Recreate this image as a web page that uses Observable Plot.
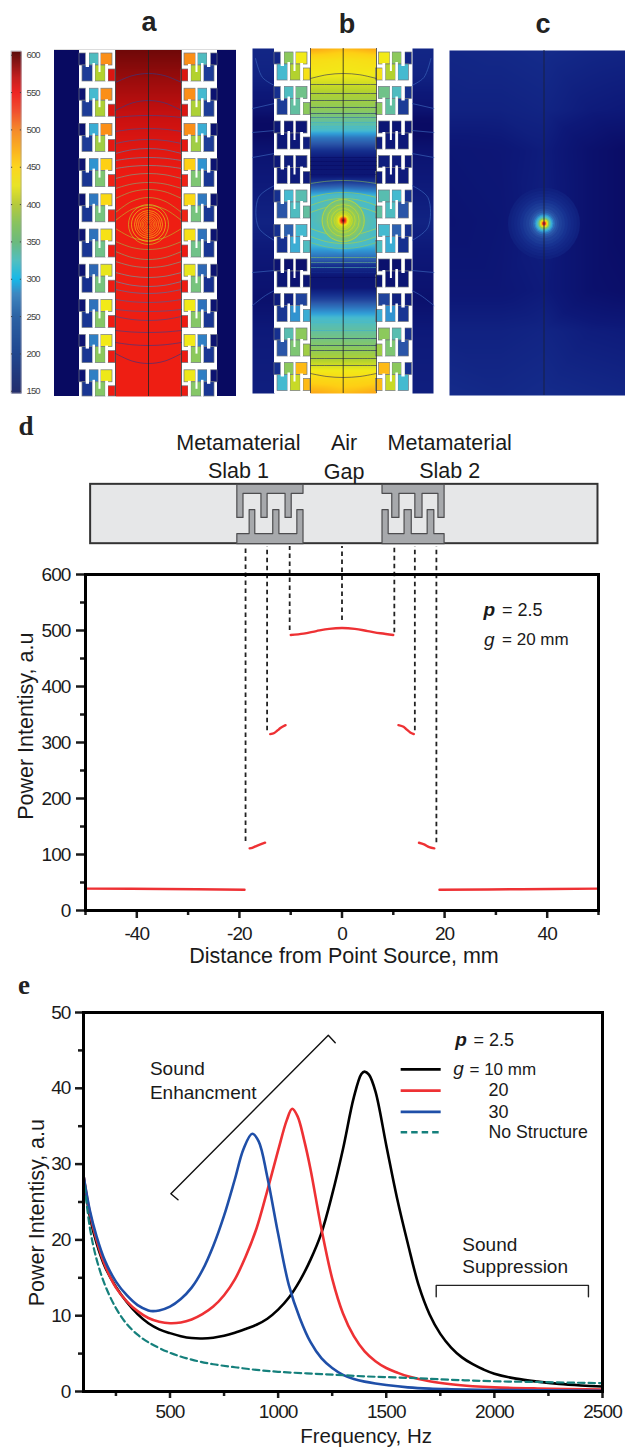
<!DOCTYPE html>
<html><head><meta charset="utf-8">
<script src="https://cdn.jsdelivr.net/npm/d3@7"></script>
<script src="https://cdn.jsdelivr.net/npm/@observablehq/plot@0.6"></script>
<style>
html,body{margin:0;padding:0;background:#fff}
#page{position:relative;width:625px;height:1447px;overflow:hidden;font-family:"Liberation Sans",Arial,sans-serif}
#page svg{position:absolute;overflow:visible;background:transparent}
.ltr{position:absolute;transform:translate(-50%,-50%);color:#222;line-height:1}
.san{font:bold 27px "Liberation Sans",sans-serif}
.ser{font:bold 27px "Liberation Serif",serif}
svg g[aria-label="y-axis tick label"] text,svg g[aria-label="x-axis tick label"] text{letter-spacing:-.9px}
</style></head><body><div id="page"></div>
<script>
// ---------- shared intensity colour map (panels a, b, c) ----------
const heatStops  = [100,150,175,200,230,260,290,310,340,370,400,430,460,490,530,550,570,600];
const heatColors = ["#06075a","#0a0c66","#0d1878","#16308f","#2a55a8","#2f78c0","#30a0d8","#45bad0","#62bfa0","#8cc95c","#b3d22e","#f2ea18","#fed014","#fb8f18","#f03a20","#ee1b12","#c81010","#6e0808"];
// ---------- colour bar ----------
const barStops  = [147,200,250,280,300,325,350,375,400,425,450,470,500,525,550,570,600,605];
const barColors = ["#232d6c","#1f468f","#2c62a4","#3e86c0","#18b8e8","#51bfc0","#6cba7d","#88c35f","#b6ca3c","#e8e428","#fcd620","#fbb720","#f58a2b","#f05030","#ee2424","#c4201f","#6b0f10","#5b0a0a"];
const barTicks  = [150,200,250,300,350,400,450,500,550,600];
// ---------- resonator cell: pockets (u1,u2,v1,v2) and white teeth ----------
const pocketU1 = [0,10,21.5,3,16,29];
const pocketU2 = [6.7,19.5,33,13.5,26.2,36];
const pocketV1 = [3,3,3,15,15,19];
const pocketV2 = [15,15,15,31,31,31];
const toothU1 = [6.7,19.5,13.5,26.2];
const toothU2 = [10,21.5,16,29];
const toothV1 = [0,0,13,14];
const toothV2 = [17,22,31,31];
// ---------- panel a ----------
const rowsA = [[165,320,490,210,400,560],[165,310,490,210,395,560],[165,300,490,210,385,555],[165,280,460,205,360,545],[165,260,450,205,355,545],[165,255,440,205,350,550],[165,245,425,200,355,550],[165,255,430,205,365,550],[165,265,430,205,370,550],[165,265,428,205,365,550]];
const channelYA = [49,80,110,140,170,224,396];
const channelVA = [600,585,572,560,551,548,548];
const contourCenterA = [73,100,115,128,139,148,157,165,173,182,189,197,205,240,249,259,267,277,286,293,302,311,320,332,345,363];
const contourEdgeA   = [82,110,117,131,143,153,160,168,178,188,198,212,220,228,241,251,261,272,281,289,299,309,316,330,342,353];
const contourValueA  = [215,215,225,230,240,280,300,320,340,350,365,380,400,400,370,350,335,320,300,270,250,240,225,215,210,205];
const ringRA = [2,3.5,5,6.5,8,10,12,14,17,20];
const ringVA = [490,490,480,480,470,465,460,450,430,410];
// ---------- panel b ----------
const rowsB = [[190,370,430,310,400,440],[200,320,350,210,340,370],[172,170,170,175,175,180],[175,180,180,178,178,178],[200,310,330,230,320,340],[200,240,310,200,300,320],[165,160,160,170,165,170],[180,185,215,205,280,300],[200,330,370,230,360,385],[200,370,470,310,410,470]];
const channelYB = [48,60,75,85,100,112,122,130,137,150,160,175,185,195,220,245,255,265,277,287,300,317,330,347,360,370,380,393];
const channelEdgeB   = [480,445,428,410,385,365,340,312,260,200,170,170,225,305,318,305,260,200,168,172,220,310,340,368,400,430,455,480];
const channelCenterB = [470,440,428,410,385,365,340,312,260,200,170,170,235,325,365,325,260,200,168,172,220,310,340,368,400,430,450,470];
const outerYB = [48,75,110,125,150,180,222,260,300,330,393];
const outerVB = [190,186,165,140,165,176,186,172,160,176,182];
const contourCenterB = [73,84,93,100,107,113,117,122,126,157,161,165,169,174,180,192,198,205,235,243,248,257,262,267,272,277,322,330,338,345,350,358,365,377];
const contourEdgeB   = [78,84,93,100,107,113,117,122,126,157,161,165,169,174,183,197,205,212,228,236,242,257,262,267,272,277,322,330,338,345,350,358,365,373];
const contourValueB  = [150,150,150,150,160,170,240,300,310,130,130,130,140,160,380,400,405,410,410,405,380,370,350,330,200,130,310,300,160,150,150,150,150,150];
const glowRB = [22,18,14,10,8,6,5,4,3,2,1];
const glowVB = [358,368,380,395,410,425,450,490,530,560,600];
const ringRB = [6,9,12,16,21];
// light contour arcs in the outer strip, left side; mirrored for the right
const arcIdB = [0,0,0,1,1,2,2,3,3,3,3,4,4,5,5,6,6,6];
const arcXB  = [255,262,274,252,274,252,274,274,258,258,274,252,274,252,274,252,265,274];
const arcYB  = [58,77,85,108,103,132,130,185,197,227,240,157,153,272,270,305,295,290];
// ---------- panel c ----------
const gridXC = [449,500,544,590,625];
const gridYC = [50,110,150,220,290,330,395];
const gridVC = [[190,192,195,190,188],[185,185,188,178,175],[170,172,180,160,150],[165,170,182,160,150],[172,172,178,160,155],[185,185,188,180,178],[195,192,195,192,190]];
const glowRC = [36,33,30,27,24,21,18,15,13,11,9.5,8.3,7,5.5,4,3,2,1];
const glowVC = [183,187,191,196,202,208,214,222,232,250,275,300,325,370,420,470,530,550];
// ---------- panel d ----------
const dLeftX  = [-50,-35,-19]; const dLeftY  = [39,38.5,37];
const dRightX = [19,35,50];    const dRightY = [37,38,39];
const dMidX   = [-10,-7.5,-5,-2.5,0,2.5,5,7.5,10];
const dMidY   = [492,494.5,499,503,504.5,503,499,495,492];
const dL2X = [-14,-13.2,-12.5,-12,-11]; const dL2Y = [315,317,322,326,331];
const dR2X = [11,12,12.5,13.3,14];      const dR2Y = [331,328,324,318,315];
const dL3X = [-18,-17.5,-16.5,-15];     const dL3Y = [111,112,116,121];
const dR3X = [15,16,17,18];             const dR3Y = [121,118,113,111];
const dashX   = [-18.8,-14.6,-10.2,0,10.2,14.2,18.4];
const dashEnd = [123,321,500,518,496,321,121];
const topTeeth1 = [[-20.5,-19.3],[-15.8,-14.6],[-11.1,-9.9]];
const lowTeeth1 = [[-18.1,-17],[-13.5,-12.3],[-8.8,-7.6]];
const topTeeth2 = [[9.7,11.1],[14.2,15.6],[18.7,19.9]];
const lowTeeth2 = [[7.8,9],[12.1,13.5],[16.6,17.9]];
const schemLabels = ["Metamaterial","Slab 1","Air","Gap","Metamaterial","Slab 2"];
const schemLabelX = [-20.2,-20.2,.4,.4,21,21];
const schemLabelY = [834,784,834,783,834,784];
// ---------- panel e ----------
const freq10 = [100,130,160,200,250,300,350,400,450,500,550,600,650,700,750,800,850,900,950,1000,1050,1100,1150,1200,1250,1300,1350,1385,1400,1420,1450,1500,1550,1600,1650,1700,1750,1800,1850,1900,1950,2000,2100,2200,2300,2400,2500];
const pow10  = [28.5,23,19.6,16.4,13.8,11.8,10.2,9,8.2,7.7,7.3,7.05,7,7.1,7.35,7.75,8.25,8.8,9.6,10.8,12.4,14.6,17.4,20.9,26,32,38.8,41.9,42.2,41.8,39.6,32.5,25.5,19.5,14,10.2,7.6,5.8,4.5,3.6,2.9,2.35,1.7,1.3,1,.8,.65];
const freq20 = [100,130,160,200,250,300,350,400,450,500,550,600,650,700,750,800,850,900,950,1000,1040,1065,1090,1120,1150,1200,1250,1300,1350,1400,1450,1500,1550,1600,1700,1800,1900,2000,2200,2500];
const pow20  = [28.5,23.5,20,16.6,13.7,11.9,10.6,9.7,9.2,9,9.1,9.5,10.2,11.2,12.7,14.8,17.8,21.5,26.5,31.8,35.8,37.3,36.3,33.2,29.3,21.5,14.9,10.3,7.3,5.3,4,3.1,2.5,2,1.35,.95,.7,.55,.4,.25];
const freq30 = [100,130,160,200,250,300,350,400,420,450,500,550,600,650,700,750,800,840,880,910,950,1000,1050,1100,1150,1200,1250,1300,1350,1400,1450,1500,1600,1700,1800,2000,2500];
const pow30  = [28.5,23.8,20.5,17.2,14.5,12.7,11.4,10.7,10.6,10.7,11.2,12.2,13.7,16,19.2,23.2,28,32,34,33,28.3,20.8,14,9.7,6.5,4.4,3.1,2.2,1.65,1.3,1.05,.85,.55,.38,.3,.2,.1];
const freqN  = [100,130,160,200,250,300,350,400,500,600,700,800,900,1000,1200,1400,1600,1800,2000,2200,2500];
const powN   = [28.5,21.5,17.5,14,11,8.9,7.5,6.5,5.1,4.2,3.6,3.2,2.85,2.6,2.3,2,1.8,1.55,1.35,1.25,1.1];

const page = document.getElementById("page");
const place = (svg,left,top)=>{svg.style.left=left+"px";svg.style.top=top+"px";page.appendChild(svg);};
const letter = (t,x,y,cls)=>{const d=document.createElement("div");d.className="ltr "+cls;d.textContent=t;d.style.left=x+"px";d.style.top=y+"px";page.appendChild(d);};
const pts = (xs,ys)=>xs.map((x,i)=>({x,y:ys[i]}));
const F = "Liberation Sans, Arial, sans-serif";
const heat = {type:"linear",domain:heatStops,range:heatColors,clamp:true};
const hide = ()=>"";

function cellMarks(cfg){
  const {wallL,chanL,chanR,wallR,cx,rows,y0,period,top,bottom} = cfg;
  const mirror = x=>2*cx-x;
  const pockets=[],teeth=[];
  rows.forEach((vals,k)=>{
    const yTop=y0+period*k;
    vals.forEach((v,i)=>{
      const a=wallL+pocketU1[i],b=wallL+pocketU2[i];
      pockets.push({x1:a,x2:b,y1:yTop+pocketV1[i],y2:Math.min(yTop+pocketV2[i],bottom),v});
      pockets.push({x1:mirror(b),x2:mirror(a),y1:yTop+pocketV1[i],y2:Math.min(yTop+pocketV2[i],bottom),v});
    });
    toothU1.forEach((u,i)=>{
      const a=wallL+u,b=wallL+toothU2[i];
      teeth.push({x1:a,x2:b,y1:yTop+toothV1[i],y2:Math.min(yTop+toothV2[i],bottom)});
      teeth.push({x1:mirror(b),x2:mirror(a),y1:yTop+toothV1[i],y2:Math.min(yTop+toothV2[i],bottom)});
    });
  });
  return [
    Plot.rect([{a:wallL,b:chanL},{a:chanR,b:wallR}],{x1:"a",x2:"b",y1:top,y2:bottom,fill:"white"}),
    Plot.rect(pockets,{x1:"x1",x2:"x2",y1:"y1",y2:"y2",fill:"v",stroke:"#6f7680",strokeWidth:.7}),
    Plot.rect(teeth,{x1:"x1",x2:"x2",y1:"y1",y2:"y2",fill:"white"})
  ];
}
function contourRows(center,edge,value,xl,xm,xr){
  return center.flatMap((c,i)=>[
    {id:i,x:xl,y:edge[i],v:value[i]},
    {id:i,x:(xl+xm)/2,y:(3*c+edge[i])/4,v:value[i]},
    {id:i,x:xm,y:c,v:value[i]},
    {id:i,x:(xm+xr)/2,y:(3*c+edge[i])/4,v:value[i]},
    {id:i,x:xr,y:edge[i],v:value[i]}]);
}
const panelOpts=(x0,x1,y0,y1,marks)=>({width:x1-x0,height:y1-y0,margin:0,
  x:{domain:[x0,x1],axis:null},y:{domain:[y1,y0],axis:null},color:heat,r:{type:"identity"},marks});

// Colour bar
const barData = barStops.flatMap((s)=>[{x:0,y:s,v:s},{x:1,y:s,v:s}]);
place(Plot.plot({width:50,height:360,marginLeft:11,marginRight:29,marginTop:11,marginBottom:7,
  style:{fontFamily:F,background:"transparent"},
  x:{domain:[0,1],axis:null},y:{domain:[147,605]},
  color:{type:"linear",domain:barStops,range:barColors},
  marks:[
    Plot.raster(barData,{x:"x",y:"y",fill:"v",interpolate:"barycentric",x1:0,x2:1,y1:147,y2:605,pixelSize:1}),
    Plot.rect([0],{x1:0,x2:1,y1:147,y2:605,stroke:"#99a",strokeWidth:.6,fill:"none"}),
    Plot.ruleY(barTicks,{x1:0,x2:.12,stroke:"#444",strokeWidth:1}),
    Plot.ruleY(barTicks,{x1:.88,x2:1,stroke:"#444",strokeWidth:1}),
    Plot.axisY(barTicks,{anchor:"right",tickSize:0,tickPadding:5,label:null,fontSize:9.5,color:"#444",stroke:"none",fill:"#444",tickFormat:d=>String(d)})
  ]}),0,40);

// Panel a
{
  const x0=54,x1=236,y0=49,y1=396,cx=148,chanL=115,chanR=181;
  const field=channelYA.flatMap((y,i)=>[{x:chanL,y,v:channelVA[i]},{x:chanR,y,v:channelVA[i]}]);
  const cont=contourRows(contourCenterA,contourEdgeA,contourValueA,chanL,cx,chanR);
  const rings=ringRA.map((r,i)=>({r,v:ringVA[i]}));
  place(Plot.plot(panelOpts(x0,x1,y0,y1,[
    Plot.rect([{a:x0,b:79},{a:217,b:x1}],{x1:"a",x2:"b",y1:y0,y2:y1,fill:()=>130}),
    Plot.raster(field,{x:"x",y:"y",fill:"v",interpolate:"barycentric",x1:chanL,x2:chanR,y1:y0,y2:y1,pixelSize:1}),
    ...cellMarks({wallL:79,chanL,chanR,wallR:217,cx,rows:rowsA,y0:50,period:35.2,top:y0,bottom:y1}),
    Plot.line(cont,{x:"x",y:"y",z:"id",stroke:"v",strokeWidth:.7,strokeOpacity:.8,curve:"catmull-rom"}),
    Plot.dot(rings,{x:()=>cx,y:()=>224,r:"r",stroke:"v",fill:"none",strokeWidth:.6}),
    Plot.ruleX([cx],{stroke:"#222",strokeWidth:.8}),
    Plot.ruleX([chanL,chanR],{stroke:"#333",strokeWidth:.8}),
    Plot.rect([0],{x1:x0,x2:x1,y1:y0,y2:y0+1,fill:"#ddd"})
  ])),x0,y0);
}
// Panel b
{
  const x0=252,x1=433,y0=48,y1=393,cx=342.7,chanL=310,chanR=376;
  const field=channelYB.flatMap((y,i)=>[{x:chanL,y,v:channelEdgeB[i]},{x:cx,y,v:channelCenterB[i]},{x:chanR,y,v:channelEdgeB[i]}]);
  const outerL=outerYB.flatMap((y,i)=>[{x:x0,y,v:outerVB[i]},{x:274,y,v:outerVB[i]}]);
  const outerR=outerYB.flatMap((y,i)=>[{x:412,y,v:outerVB[i]},{x:x1,y,v:outerVB[i]}]);
  const cont=contourRows(contourCenterB,contourEdgeB,contourValueB,chanL,cx,chanR);
  const arcs=pts(arcXB,arcYB).map((p,i)=>({...p,id:arcIdB[i]}));
  const arcsR=arcs.map(p=>({...p,x:2*cx-p.x,id:p.id+100}));
  const glow=glowRB.map((r,i)=>({r,v:glowVB[i]}));
  place(Plot.plot(panelOpts(x0,x1,y0,y1,[
    Plot.raster(outerL,{x:"x",y:"y",fill:"v",interpolate:"barycentric",x1:x0,x2:274,y1:y0,y2:y1,pixelSize:1}),
    Plot.raster(outerR,{x:"x",y:"y",fill:"v",interpolate:"barycentric",x1:412,x2:x1,y1:y0,y2:y1,pixelSize:1}),
    Plot.raster(field,{x:"x",y:"y",fill:"v",interpolate:"barycentric",x1:chanL,x2:chanR,y1:y0,y2:y1,pixelSize:1}),
    Plot.line(arcs.concat(arcsR),{x:"x",y:"y",z:"id",stroke:"#3a62b8",strokeWidth:.7,curve:"catmull-rom"}),
    ...cellMarks({wallL:274,chanL,chanR,wallR:412,cx,rows:rowsB,y0:49,period:34.5,top:y0,bottom:y1}),
    Plot.line(cont,{x:"x",y:"y",z:"id",stroke:"v",strokeWidth:.65,strokeOpacity:.8,curve:"catmull-rom"}),
    Plot.dot(glow,{x:()=>cx,y:()=>220,r:"r",fill:"v",fillOpacity:.85}),
    Plot.dot(ringRB,{x:()=>cx,y:()=>220,r:d=>d,fill:"none",stroke:()=>415,strokeWidth:.6}),
    Plot.ruleX([cx],{stroke:"#222",strokeWidth:.8}),
    Plot.ruleX([chanL,chanR],{stroke:"#333",strokeWidth:.8})
  ])),x0,y0);
}
// Panel c
{
  const x0=449,x1=625,y0=50,y1=395,cx=543.5;
  const field=gridYC.flatMap((y,j)=>gridXC.map((x,i)=>({x,y,v:gridVC[j][i]})));
  const glow=glowRC.map((r,i)=>({r,v:glowVC[i]}));
  place(Plot.plot(panelOpts(x0,x1,y0,y1,[
    Plot.raster(field,{x:"x",y:"y",fill:"v",interpolate:"barycentric",x1:x0,x2:x1,y1:y0,y2:y1,pixelSize:1}),
    Plot.dot(glow,{x:()=>cx,y:()=>223,r:"r",fill:"v"}),
    Plot.ruleX([cx],{stroke:"#1a1f40",strokeWidth:.9})
  ])),x0,y0);
}
letter("a",149,22,"san");letter("b",347,24,"san");letter("c",543,24,"san");
letter("d",26,426,"ser");letter("e",24,985,"ser");

// Panel d, with the slab schematic above the frame
function comb(x1,x2,yOuter,yInner,yTip,teeth){
  const p=[[x1,yOuter],[x2,yOuter]];
  const ordered=[...teeth].sort((a,b)=>b[0]-a[0]);
  if(Math.abs(ordered[0][1]-x2)>.05) p.push([x2,yInner]);
  ordered.forEach(t=>{p.push([t[1],yInner],[t[1],yTip],[t[0],yTip],[t[0],yInner]);});
  if(Math.abs(ordered[ordered.length-1][0]-x1)>.05) p.push([x1,yInner]);
  p.push([x1,yOuter]);
  return p.map(([x,y])=>({x,y}));
}
const dRed={stroke:"#ee3134",strokeWidth:2.4,x:"x",y:"y",curve:"catmull-rom"};
const slabStyle={x:"x",y:"y",fill:"#a7a9ac",stroke:"#4d4d4f",strokeWidth:1.2};
const schemTop=761,schemBot=655;
place(Plot.plot({width:625,height:570,marginTop:164,marginBottom:70,marginLeft:85,marginRight:27,
  style:{fontFamily:F,background:"transparent",color:"#1a1a1a"},
  x:{domain:[-50,50]},y:{domain:[0,600]},
  marks:[
    Plot.rect([0],{x1:-49,x2:49.9,y1:schemBot,y2:schemTop,fill:"#e6e7e8",stroke:"#333",strokeWidth:2}),
    Plot.line(comb(-20.5,-7.6,schemTop,745,702,topTeeth1),slabStyle),
    Plot.line(comb(-20.5,-7.6,schemBot,673,716,lowTeeth1),slabStyle),
    Plot.line(comb(7.8,19.9,schemTop,745,702,topTeeth2),slabStyle),
    Plot.line(comb(7.8,19.9,schemBot,673,716,lowTeeth2),slabStyle),
    Plot.text(schemLabels,{x:(d,i)=>schemLabelX[i],y:(d,i)=>schemLabelY[i],text:d=>d,fontSize:21.5,fill:"#1a1a1a"}),
    Plot.ruleX(dashX.map((x,i)=>({x,e:dashEnd[i]})),{x:"x",y1:"e",y2:650,stroke:"#222",strokeWidth:1.8,strokeDasharray:"4.5 3.5"}),
    Plot.line(pts(dLeftX,dLeftY),dRed),Plot.line(pts(dRightX,dRightY),dRed),
    Plot.line(pts(dMidX,dMidY),dRed),
    Plot.line(pts(dL2X,dL2Y),dRed),Plot.line(pts(dR2X,dR2Y),dRed),
    Plot.line(pts(dL3X,dL3Y),dRed),Plot.line(pts(dR3X,dR3Y),dRed),
    Plot.text(["p"],{x:()=>27.6,y:()=>536,text:d=>d,fontSize:19,fontWeight:"bold",fontStyle:"italic",textAnchor:"start"}),
    Plot.text(["= 2.5"],{x:()=>31.2,y:()=>536,text:d=>d,fontSize:18,textAnchor:"start"}),
    Plot.text(["g"],{x:()=>27.7,y:()=>484,text:d=>d,fontSize:19,fontStyle:"italic",textAnchor:"start"}),
    Plot.text(["= 20 mm"],{x:()=>31.2,y:()=>484,text:d=>d,fontSize:17,textAnchor:"start"}),
    Plot.axisY(d3.range(50,600,100),{tickFormat:hide,tickSize:5,strokeWidth:2.5,label:null}),
    Plot.axisY(d3.range(0,601,100),{tickSize:9,strokeWidth:2.5,tickPadding:6,fontSize:19,tickFormat:d=>String(d),label:null}),
    Plot.axisX(d3.range(-50,51,20),{tickFormat:hide,tickSize:5,strokeWidth:2.5,label:null}),
    Plot.axisX(d3.range(-40,41,20),{tickSize:8,strokeWidth:2.5,tickPadding:8,fontSize:19,tickFormat:d=>String(d),label:null}),
    Plot.text(["Power Intentisy, a.u"],{x:()=>-50,y:()=>329,text:d=>d,rotate:-90,dx:-59,fontSize:21.5}),
    Plot.text(["Distance from Point Source, mm"],{x:()=>.4,y:()=>0,text:d=>d,dy:46,fontSize:21.5}),
    Plot.frame({stroke:"#000",strokeWidth:3})
  ]}),0,410);

// Panel e
const eLine=(stroke,w,extra={})=>({x:"x",y:"y",stroke,strokeWidth:w,curve:"catmull-rom",...extra});
const legendY=[42.5,39.7,36.9,34.2];
const eStrokes=["#000","#ee3134","#1f4fa8","#15807c"];
const eText=(t,x,y,o={})=>Plot.text([t],{x:()=>x,y:()=>y,text:d=>d,fontSize:19,textAnchor:"start",fill:"#1a1a1a",...o});
place(Plot.plot({width:625,height:452,marginTop:17,marginBottom:56,marginLeft:83,marginRight:23,
  style:{fontFamily:F,background:"transparent",color:"#1a1a1a"},
  x:{domain:[100,2500]},y:{domain:[0,50]},
  marks:[
    Plot.line(pts(freq10,pow10),eLine("#000",2.6)),
    Plot.line(pts(freq20,pow20),eLine("#ee3134",2.6)),
    Plot.line(pts(freq30,pow30),eLine("#1f4fa8",2.6)),
    Plot.line(pts(freqN,powN),eLine("#15807c",2.2,{strokeDasharray:"6.5 4"})),
    Plot.line(pts([537,504,1232,1264],[25.3,26.1,47,46]),{x:"x",y:"y",stroke:"#111",strokeWidth:1.4}),
    Plot.line(pts([1731,1731,2435,2435],[12.5,14,14,12.5]),{x:"x",y:"y",stroke:"#222",strokeWidth:1.4}),
    eText("Sound",407,42.5),eText("Enhancment",407,39.4),
    eText("Sound",1852,19.4),eText("Suppression",1852,16.4),
    eText("p",1819,46.4,{fontWeight:"bold",fontStyle:"italic"}),eText("= 2.5",1903,46.4,{fontSize:18}),
    eText("g",1810,42.5,{fontStyle:"italic"}),eText("= 10 mm",1885,42.5,{fontSize:17}),
    eText("20",1973,39.7,{fontSize:18}),eText("30",1973,36.9,{fontSize:18}),eText("No Structure",1973,34.2,{fontSize:17.7}),
    ...legendY.map((y,i)=>Plot.ruleY([y],{x1:1569,x2:1754,stroke:eStrokes[i],strokeWidth:i==3?2.4:2.8,strokeDasharray:i==3?"6.5 4":null})),
    Plot.axisY(d3.range(5,50,10),{tickFormat:hide,tickSize:5,strokeWidth:2.5,label:null}),
    Plot.axisY(d3.range(0,51,10),{tickSize:8,strokeWidth:2.5,tickPadding:5,fontSize:19,tickFormat:d=>String(d),label:null}),
    Plot.axisX([250,750,1250,1750,2250],{tickFormat:hide,tickSize:5,strokeWidth:2.5,label:null}),
    Plot.axisX(d3.range(500,2501,500),{tickSize:7,strokeWidth:2.5,tickPadding:6,fontSize:19,tickFormat:d=>String(d),label:null}),
    Plot.text(["Power Intentisy, a.u"],{x:()=>100,y:()=>23.6,text:d=>d,rotate:-90,dx:-46,fontSize:21.5}),
    Plot.text(["Frequency, Hz"],{x:()=>1407,y:()=>0,text:d=>d,dy:45,fontSize:20.5}),
    Plot.frame({stroke:"#000",strokeWidth:3})
  ]}),0,995);
</script></body></html>
